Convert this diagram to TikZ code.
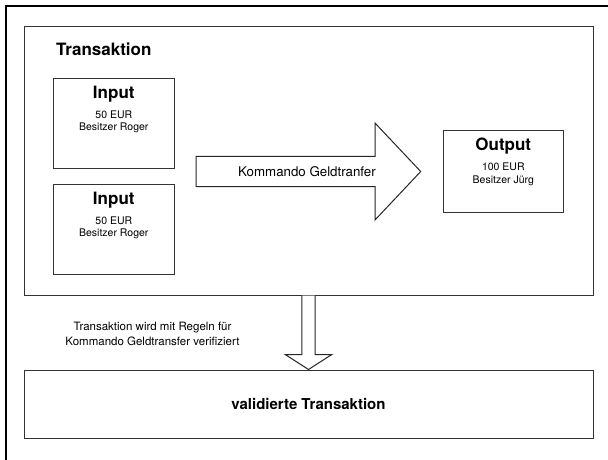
\documentclass[tikz,border=0pt]{standalone}
\usepackage{fontspec}
\setmainfont{TeX Gyre Heros}
\usetikzlibrary{positioning,calc}

\tikzset{
	box/.style = {draw = black!80, line width = 1pt, inner sep = 0pt},
	coin/.style = {box, minimum width = 121pt, minimum height = 90pt},
	title/.style = {inner sep = 0pt, font = \fontsize{17}{20}\selectfont\bfseries},
	detail/.style = {inner sep = 0pt, align = center, font = \fontsize{10.5}{12.5}\selectfont},
	arrowshape/.style = {draw = black!85, line width = 1pt, fill = white}
}

\begin{document}
\begin{tikzpicture} [x = 1pt, y = -1pt]
	\useasboundingbox (0,0) rectangle (608,459);
	\clip (0,0) rectangle (608,459);
	% frame, runs off the page on the right and at the bottom
	\draw [line width = 1.2pt] (6,6) rectangle (620,470);

	% the transaction with its coins
	\node [box, minimum width = 569pt, minimum height = 269pt] (trans) at (308.5,160.5) {};
	\node [title, anchor = west] (transname) at (56,49.5) {Transaktion};

	\node [coin] (in1) at (113.8,123.3) {};
	\node [coin, below = 15pt of in1] (in2) {};
	\node [coin, minimum width = 120pt, minimum height = 82pt] (out) at (503.3,171.7) {};

	\foreach \c/\t/\a/\o in {in1/Input/50/Roger, in2/Input/50/Roger, out/Output/100/Jürg} {
		\node [title] (\c-head) at ([yshift = -16pt]\c.north) {\t};
		\node [detail] (\c-text) at ([yshift = -44pt]\c.north) {\a\ EUR\\Besitzer \o};
	}

	% command arrow
	\draw [arrowshape] (196,156.3) -- (375,156.3) -- (375,123) -- (420.7,171.5)
		-- (375,220) -- (375,186.7) -- (196,186.7) -- cycle;
	\node [font = \fontsize{13.3}{16}\selectfont] (cmd) at (307,171.5) {Kommando Geldtranfer};

	% check and result
	\node [box, minimum width = 569pt, minimum height = 68pt] (valid) at (308.5,404) {};
	\node [title, font = \fontsize{15}{18}\selectfont\bfseries] (validname) at (valid) {validierte Transaktion};

	\draw [arrowshape] ($(trans.south)+(-6.7,0)$) -- ($(valid.north)+(-6.7,-15)$)
		-- ($(valid.north)+(-23.3,-15)$) -- (valid.north) -- ($(valid.north)+(23.3,-15)$)
		-- ($(valid.north)+(6.7,-15)$) -- ($(trans.south)+(6.7,0)$);
	\node [align = center, font = \fontsize{11.5}{15.7}\selectfont] (check) at (152.5,334)
		{Transaktion wird mit Regeln für\\Kommando Geldtransfer verifiziert};
\end{tikzpicture}
\end{document}
